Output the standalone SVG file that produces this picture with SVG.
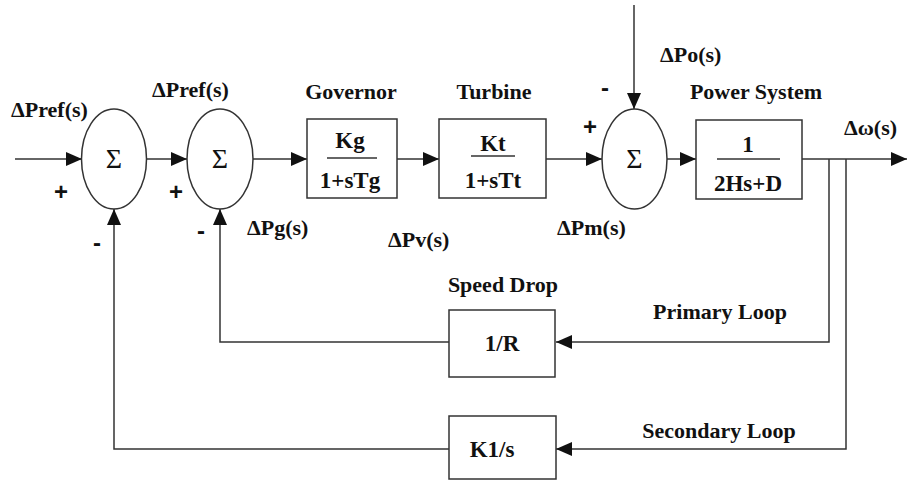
<svg xmlns="http://www.w3.org/2000/svg" width="907" height="481" viewBox="0 0 907 481">
<style>
text{font-family:"Liberation Serif","Times New Roman",serif;font-weight:bold;fill:#111;}
.lbl{font-size:22px;}
.sm{font-size:23px;}
.sg{font-size:28px;font-weight:normal;}
.sig{font-family:"Liberation Sans",Arial,sans-serif;font-size:24px;}
.blk{fill:#fff;stroke:#333;stroke-width:1.5;}
.ln{fill:none;stroke:#333;stroke-width:1.5;}
.frac{stroke:#333;stroke-width:1.5;}
</style>
<defs>
<marker id="ah" viewBox="0 0 16 14" refX="16" refY="7" markerWidth="16" markerHeight="14" markerUnits="userSpaceOnUse" orient="auto">
<path d="M0,0 L16,7 L0,14 Z" fill="#111"/>
</marker>
</defs>
<rect width="907" height="481" fill="#fff"/>
<g id="connectors">
<line class="ln" x1="15" y1="159" x2="82" y2="159" marker-end="url(#ah)"/>
<line class="ln" x1="147" y1="159" x2="187" y2="159" marker-end="url(#ah)"/>
<line class="ln" x1="253" y1="159" x2="307" y2="159" marker-end="url(#ah)"/>
<line class="ln" x1="397" y1="159" x2="439" y2="159" marker-end="url(#ah)"/>
<line class="ln" x1="546" y1="159" x2="602" y2="159" marker-end="url(#ah)"/>
<line class="ln" x1="667" y1="159" x2="696" y2="159" marker-end="url(#ah)"/>
<line class="ln" x1="802" y1="159" x2="907" y2="159" marker-end="url(#ah)"/>
<line class="ln" x1="634" y1="5" x2="634" y2="109" marker-end="url(#ah)"/>
<polyline class="ln" points="829,159 829,342 556,342" marker-end="url(#ah)"/>
<polyline class="ln" points="846,159 846,449 556,449" marker-end="url(#ah)"/>
<polyline class="ln" points="449,342 220,342 220,209" marker-end="url(#ah)"/>
<polyline class="ln" points="449,449 114,449 114,209" marker-end="url(#ah)"/>
</g>
<g id="sum1">
<ellipse class="blk" cx="114" cy="159" rx="32.5" ry="50"/>
<text class="sg" x="114" y="168" text-anchor="middle">Σ</text>
</g>
<g id="sum2">
<ellipse class="blk" cx="220" cy="159" rx="33" ry="50"/>
<text class="sg" x="220" y="168" text-anchor="middle">Σ</text>
</g>
<g id="sum3">
<ellipse class="blk" cx="634.5" cy="159" rx="32.5" ry="50"/>
<text class="sg" x="634.5" y="168" text-anchor="middle">Σ</text>
</g>
<g id="governor">
<rect class="blk" x="307" y="119" width="90" height="79"/>
<line class="frac" x1="327" y1="158" x2="377" y2="158"/>
<text class="sm" x="350" y="148" text-anchor="middle">Kg</text>
<text class="sm" x="350" y="188" text-anchor="middle">1+sTg</text>
<text class="lbl" x="351" y="99" text-anchor="middle">Governor</text>
</g>
<g id="turbine">
<rect class="blk" x="439" y="119" width="107" height="79"/>
<line class="frac" x1="471" y1="156" x2="515" y2="156"/>
<text class="sm" x="493" y="151" text-anchor="middle">Kt</text>
<text class="sm" x="493" y="188" text-anchor="middle">1+sTt</text>
<text class="lbl" x="494" y="99" text-anchor="middle">Turbine</text>
</g>
<g id="power">
<rect class="blk" x="696" y="120" width="106" height="79"/>
<line class="frac" x1="717" y1="159" x2="780" y2="159"/>
<text class="sm" x="748" y="152" text-anchor="middle">1</text>
<text class="sm" x="748" y="191" text-anchor="middle">2Hs+D</text>
<text class="lbl" x="756" y="99" text-anchor="middle">Power System</text>
</g>
<g id="speeddrop">
<rect class="blk" x="449" y="310" width="106" height="67"/>
<text class="sm" x="502" y="351" text-anchor="middle">1/R</text>
<text class="lbl" x="503" y="292" text-anchor="middle">Speed Drop</text>
</g>
<g id="integral">
<rect class="blk" x="449" y="416" width="107" height="63"/>
<text class="sm" x="492" y="457" text-anchor="middle">K1/s</text>
</g>
<g id="labels">
<text class="lbl" x="11" y="117">ΔPref(s)</text>
<text class="lbl" x="152" y="97">ΔPref(s)</text>
<text class="lbl" x="660" y="62">ΔPo(s)</text>
<text class="lbl" x="844" y="135">Δω(s)</text>
<text class="lbl" x="247" y="235">ΔPg(s)</text>
<text class="lbl" x="388" y="247">ΔPv(s)</text>
<text class="lbl" x="557" y="235">ΔPm(s)</text>
<text class="lbl" x="720" y="319" text-anchor="middle">Primary Loop</text>
<text class="lbl" x="719" y="438" text-anchor="middle">Secondary Loop</text>
<text class="sig" x="61" y="200" text-anchor="middle">+</text>
<text class="sig" x="176" y="200" text-anchor="middle">+</text>
<text class="sig" x="97" y="251" text-anchor="middle">-</text>
<text class="sig" x="201" y="239" text-anchor="middle">-</text>
<text class="sig" x="590" y="135" text-anchor="middle">+</text>
<text class="sig" x="605" y="96" text-anchor="middle">-</text>
</g>
</svg>
